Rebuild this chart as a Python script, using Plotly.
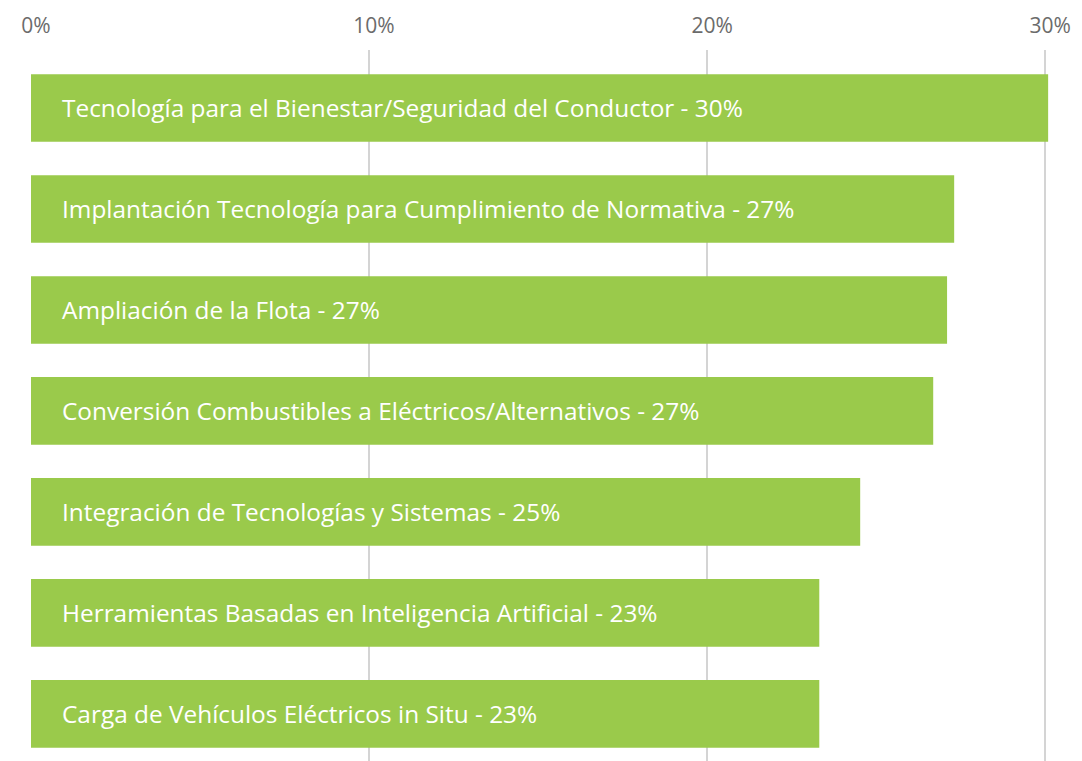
import plotly.graph_objects as go

categories = [
    "Tecnología para el Bienestar/Seguridad del Conductor",
    "Implantación Tecnología para Cumplimiento de Normativa",
    "Ampliación de la Flota",
    "Conversión Combustibles a Eléctricos/Alternativos",
    "Integración de Tecnologías y Sistemas",
    "Herramientas Basadas en Inteligencia Artificial",
    "Carga de Vehículos Eléctricos in Situ",
]
values = [30.09, 27.31, 27.10, 26.69, 24.53, 23.32, 23.32]
tick_vals = [0, 10, 20, 30]
tick_text = ["0%", "10%", "20%", "30%"]

GREEN = "#9aca4b"
FONT = "Open Sans"

fig = go.Figure(
    go.Bar(
        x=values,
        y=categories,
        orientation="h",
        marker=dict(color=GREEN, line=dict(width=0)),
        hoverinfo="skip",
    )
)

for c, v in zip(categories, values):
    fig.add_annotation(
        x=0, y=c, xref="x", yref="y",
        text=f"{c} - {round(v)}%",
        showarrow=False, xanchor="left", yanchor="middle", xshift=29,
        font=dict(family=FONT, size=24.4, color="white"),
    )

fig.update_layout(
    width=1074, height=753,
    margin=dict(l=22.5, r=19.5, t=42, b=0),
    paper_bgcolor="white", plot_bgcolor="white",
    bargap=0.33,
    showlegend=False,
    xaxis=dict(
        side="top", range=[0, 30.5],
        tickmode="array", tickvals=tick_vals, ticktext=tick_text,
        showgrid=True, gridcolor="#d4d4d4", gridwidth=2,
        zeroline=False, showline=False,
        ticks="outside", ticklen=8, tickcolor="rgba(0,0,0,0)",
        tickfont=dict(family=FONT, size=21, color="#6b6b6b"),
        ticklabelshift=5,
    ),
    yaxis=dict(
        categoryorder="array", categoryarray=categories,
        range=[6.466, -0.574],
        showticklabels=False, showgrid=False, zeroline=False, ticks="",
    ),
)

fig.write_html("out.html")
